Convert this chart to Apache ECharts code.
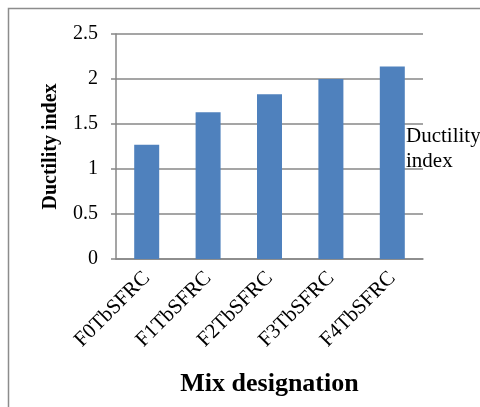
<!DOCTYPE html>
<html>
<head>
<meta charset="utf-8">
<script src="https://cdn.jsdelivr.net/npm/echarts@6/dist/echarts.min.js"></script>
<style>
  html, body { margin: 0; padding: 0; background: #fff; }
  #chart { width: 480px; height: 407px; }
</style>
</head>
<body>
<div id="chart"></div>
<script>
// Mix designations and their ductility index
const categories = ['F0TbSFRC', 'F1TbSFRC', 'F2TbSFRC', 'F3TbSFRC', 'F4TbSFRC'];
const ductilityIndex = [1.27, 1.63, 1.83, 2.0, 2.14];
const seriesName = 'Ductility index';

const serif = '"Liberation Serif", "Times New Roman", serif';
const gridColor = '#878787';

const chart = echarts.init(document.getElementById('chart'), null, { renderer: 'canvas' });
chart.setOption({
  backgroundColor: '#fff',
  animation: false,
  graphic: [{
    type: 'rect',
    shape: { x: 8.5, y: 8.5, width: 500, height: 420 },
    style: { fill: 'none', stroke: '#8c8c8c', lineWidth: 1.5 },
    silent: true
  }],
  grid: { left: 116, right: 57, top: 34, bottom: 148, outerBoundsMode: 'none', containLabel: false },
  legend: {
    data: [seriesName],
    left: 396,
    top: 119,
    itemWidth: 0,
    itemHeight: 0,
    icon: 'rect',
    formatter: () => 'Ductility\nindex',
    textStyle: { fontFamily: serif, fontSize: 21, color: '#000', lineHeight: 25 }
  },
  xAxis: {
    type: 'category',
    data: categories,
    name: 'Mix designation',
    nameLocation: 'middle',
    nameGap: 112,
    nameTextStyle: { fontFamily: serif, fontSize: 26, fontWeight: 'bold', color: '#000' },
    axisLine: { lineStyle: { color: gridColor, width: 1.5 } },
    axisTick: { show: false },
    axisLabel: {
      interval: 0,
      rotate: 45,
      margin: 16,
      fontFamily: serif,
      fontSize: 21,
      color: '#000'
    }
  },
  yAxis: {
    type: 'value',
    min: 0,
    max: 2.5,
    interval: 0.5,
    name: 'Ductility index',
    nameLocation: 'middle',
    nameGap: 55,
    nameTextStyle: { fontFamily: serif, fontSize: 20, fontWeight: 'bold', color: '#000' },
    axisLine: { show: true, lineStyle: { color: gridColor, width: 1.5 } },
    axisTick: { show: true, length: 5, lineStyle: { color: gridColor, width: 1.5 } },
    splitLine: { lineStyle: { color: gridColor, width: 1.5 } },
    axisLabel: {
      margin: 18,
      fontFamily: serif,
      fontSize: 20,
      color: '#000',
      formatter: v => String(v)
    }
  },
  series: [{
    name: seriesName,
    type: 'bar',
    data: ductilityIndex,
    barWidth: 25,
    itemStyle: { color: '#4f81bd' }
  }]
});
</script>
</body>
</html>
